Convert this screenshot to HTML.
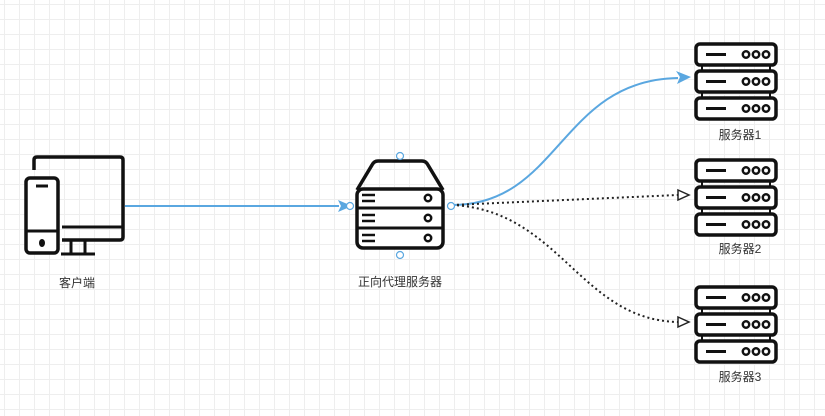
<!DOCTYPE html>
<html><head><meta charset="utf-8"><style>
body{margin:0;width:825px;height:416px;overflow:hidden;background:#fff;
background-image:linear-gradient(#eeeeee 1px,transparent 1px),linear-gradient(90deg,#eeeeee 1px,transparent 1px);
background-size:15px 15px;background-position:4px 4px;font-family:"Liberation Sans","Noto Sans CJK SC",sans-serif}
</style></head><body>
<svg width="825" height="416" style="position:absolute;left:0;top:0" font-family="Liberation Sans, Noto Sans CJK SC, sans-serif" font-size="12" fill="#333">
<defs>
<g id="srv">
<rect x="0" y="0" width="80" height="21" rx="4" fill="#fff" stroke="#111" stroke-width="3.5"/>
<line x1="10" y1="10.5" x2="30" y2="10.5" stroke="#111" stroke-width="3"/>
<circle cx="50" cy="10.5" r="3.2" fill="none" stroke="#111" stroke-width="2.5"/>
<circle cx="60" cy="10.5" r="3.2" fill="none" stroke="#111" stroke-width="2.5"/>
<circle cx="70" cy="10.5" r="3.2" fill="none" stroke="#111" stroke-width="2.5"/>
</g>
<g id="rack"><use href="#srv" y="0"/><use href="#srv" y="27"/><use href="#srv" y="54"/>
<line x1="6" y1="21" x2="6" y2="27" stroke="#111" stroke-width="2"/><line x1="74" y1="21" x2="74" y2="27" stroke="#111" stroke-width="2"/>
<line x1="6" y1="48" x2="6" y2="54" stroke="#111" stroke-width="2"/><line x1="74" y1="48" x2="74" y2="54" stroke="#111" stroke-width="2"/></g>
</defs>
<!-- client -->
<path d="M34 170 V160 Q34 157 37 157 H120 Q123 157 123 160 V237 Q123 240 120 240 H62" fill="none" stroke="#111" stroke-width="3.5"/>
<line x1="62" y1="227" x2="122" y2="227" stroke="#111" stroke-width="3"/>
<line x1="71" y1="240" x2="71" y2="254" stroke="#111" stroke-width="3"/>
<line x1="85" y1="240" x2="85" y2="254" stroke="#111" stroke-width="3"/>
<line x1="61" y1="254" x2="95" y2="254" stroke="#111" stroke-width="3"/>
<rect x="26" y="178" width="32" height="75" rx="4" fill="#fff" stroke="#111" stroke-width="3.5"/>
<line x1="26" y1="231" x2="58" y2="231" stroke="#111" stroke-width="3"/>
<line x1="36" y1="186" x2="48" y2="186" stroke="#111" stroke-width="3"/>
<ellipse cx="42" cy="243" rx="3" ry="4" fill="#111"/>
<text x="77" y="287" text-anchor="middle">客户端</text>
<!-- proxy -->
<path d="M357 190 L372 165 Q374 161 378 161 H422 Q426 161 428 165 L443 190" fill="none" stroke="#111" stroke-width="3.5"/>
<rect x="357" y="189" width="86" height="59" rx="6" fill="#fff" stroke="#111" stroke-width="3.5"/>
<line x1="357" y1="208" x2="443" y2="208" stroke="#111" stroke-width="3"/>
<line x1="357" y1="228" x2="443" y2="228" stroke="#111" stroke-width="3"/>
<g stroke="#111" stroke-width="2.5">
<line x1="362" y1="195" x2="375" y2="195"/><line x1="362" y1="201" x2="375" y2="201"/>
<line x1="362" y1="215" x2="375" y2="215"/><line x1="362" y1="221" x2="375" y2="221"/>
<line x1="362" y1="235" x2="375" y2="235"/><line x1="362" y1="241" x2="375" y2="241"/></g>
<g fill="none" stroke="#111" stroke-width="2.5"><circle cx="428" cy="198" r="3.2"/><circle cx="428" cy="218" r="3.2"/><circle cx="428" cy="238" r="3.2"/></g>
<text x="400" y="286" text-anchor="middle">正向代理服务器</text>
<!-- connectors -->
<line x1="125" y1="206" x2="339" y2="206" stroke="#5aa7e0" stroke-width="2"/>
<path d="M338 200 L352 206 L338 212 L341 206 Z" fill="#5aa7e0"/>
<path d="M452 205 C560 205 560 80 678 78" fill="none" stroke="#5aa7e0" stroke-width="2"/>
<path d="M676 71 L691 77 L677 84 L680 77 Z" fill="#5aa7e0"/>
<path d="M452 205 L678 195" fill="none" stroke="#222" stroke-width="2" stroke-dasharray="2 3"/>
<path d="M678 190 L689 195 L678 200 Z" fill="#fff" stroke="#222" stroke-width="1.5"/>
<path d="M452 205 C560 210 580 320 678 322" fill="none" stroke="#222" stroke-width="2" stroke-dasharray="2 3"/>
<path d="M678 317 L689 322 L678 327 Z" fill="#fff" stroke="#222" stroke-width="1.5"/>
<g fill="#fff" stroke="#5aa7e0" stroke-width="1.2"><circle cx="400" cy="156" r="3.5"/><circle cx="400" cy="255" r="3.5"/><circle cx="350" cy="206" r="3.5"/><circle cx="451" cy="206" r="3.5"/></g>
<!-- servers -->
<use href="#rack" x="696" y="44"/>
<text x="740" y="139" text-anchor="middle">服务器1</text>
<use href="#rack" x="696" y="160"/>
<text x="740" y="253" text-anchor="middle">服务器2</text>
<use href="#rack" x="696" y="287"/>
<text x="740" y="381" text-anchor="middle">服务器3</text>
</svg>
</body></html>
